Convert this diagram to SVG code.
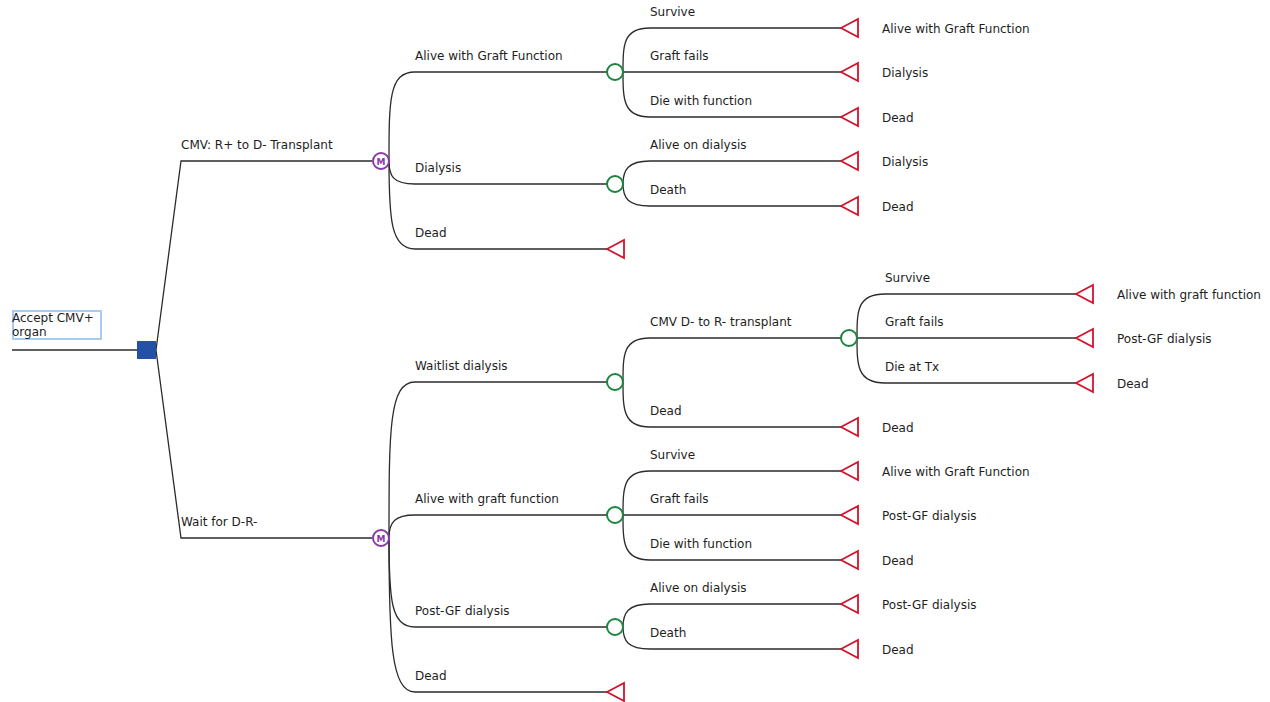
<svg xmlns="http://www.w3.org/2000/svg" width="1270" height="702" viewBox="0 0 1270 702">
<style>
.ln{fill:none;stroke:#2b2b2b;stroke-width:1.3}
.ch{fill:#fff;stroke:#1e8440;stroke-width:2}
.mk{fill:#fff;stroke:#8a3aa6;stroke-width:2}
.tm{fill:#fff;stroke:#d3132d;stroke-width:1.8;stroke-linejoin:miter}
.t{font-family:"DejaVu Sans","Liberation Sans",sans-serif;font-size:12px;fill:#1e1e1e}
.mt{font-family:"DejaVu Sans","Liberation Sans",sans-serif;font-size:9px;font-weight:bold;fill:#8a3aa6}
</style>
<rect width="1270" height="702" fill="#fff"/>
<g id="connectors">
<path class="ln" d="M12,350H137"/>
<path class="ln" d="M156,350L181,161H372"/>
<path class="ln" d="M156,350L181,538H372"/>
<path class="ln" d="M389,161C389,100 389,72 415,72H607"/>
<path class="ln" d="M389,161C389,176 393,184 415,184H607"/>
<path class="ln" d="M389,161C389,220 391,249 415,249H607"/>
<path class="ln" d="M623,72C623,45 623,28 650,28H841"/>
<path class="ln" d="M623,72H841"/>
<path class="ln" d="M623,72C623,99 623,117 650,117H841"/>
<path class="ln" d="M623,184C623,170 628,161 650,161H841"/>
<path class="ln" d="M623,184C623,198 628,206 650,206H841"/>
<path class="ln" d="M389,538C389,430 389,382 415,382H607"/>
<path class="ln" d="M389,538C389,522 395,515 415,515H607"/>
<path class="ln" d="M389,538C389,600 391,627 415,627H607"/>
<path class="ln" d="M389,538C389,640 391,692 415,692H607"/>
<path class="ln" d="M623,382C623,355 623,338 650,338H841"/>
<path class="ln" d="M623,382C623,409 623,427 650,427H841"/>
<path class="ln" d="M857,338C857,311 857,294 885,294H1076"/>
<path class="ln" d="M857,338H1076"/>
<path class="ln" d="M857,338C857,365 857,383 885,383H1076"/>
<path class="ln" d="M623,515C623,488 623,471 650,471H841"/>
<path class="ln" d="M623,515H841"/>
<path class="ln" d="M623,515C623,542 623,560 650,560H841"/>
<path class="ln" d="M623,627C623,613 628,604 650,604H841"/>
<path class="ln" d="M623,627C623,641 628,649 650,649H841"/>
<text class="t" x="181" y="148.5">CMV: R+ to D- Transplant</text>
<text class="t" x="181" y="525.5">Wait for D-R-</text>
<text class="t" x="415" y="59.5">Alive with Graft Function</text>
<text class="t" x="415" y="171.5">Dialysis</text>
<text class="t" x="415" y="236.5">Dead</text>
<text class="t" x="650" y="15.5">Survive</text>
<text class="t" x="650" y="59.5">Graft fails</text>
<text class="t" x="650" y="104.5">Die with function</text>
<text class="t" x="650" y="148.5">Alive on dialysis</text>
<text class="t" x="650" y="193.5">Death</text>
<text class="t" x="415" y="369.5">Waitlist dialysis</text>
<text class="t" x="415" y="502.5">Alive with graft function</text>
<text class="t" x="415" y="614.5">Post-GF dialysis</text>
<text class="t" x="415" y="679.5">Dead</text>
<text class="t" x="650" y="325.5">CMV D- to R- transplant</text>
<text class="t" x="650" y="414.5">Dead</text>
<text class="t" x="885" y="281.5">Survive</text>
<text class="t" x="885" y="325.5">Graft fails</text>
<text class="t" x="885" y="370.5">Die at Tx</text>
<text class="t" x="650" y="458.5">Survive</text>
<text class="t" x="650" y="502.5">Graft fails</text>
<text class="t" x="650" y="547.5">Die with function</text>
<text class="t" x="650" y="591.5">Alive on dialysis</text>
<text class="t" x="650" y="636.5">Death</text>
</g>
<g id="root">
<rect x="13" y="311" width="88" height="28" fill="#fff" stroke="#a7cdf5" stroke-width="2"/>
<text class="t" x="12" y="322">Accept CMV+</text>
<text class="t" x="12" y="336">organ</text>
<rect x="137" y="341" width="19" height="18" fill="#2450a6"/>
</g>
<g id="markov1"><circle class="mk" cx="381" cy="161" r="8"/><text class="mt" x="381" y="164.5" text-anchor="middle">M</text></g>
<g id="markov2"><circle class="mk" cx="381" cy="538" r="8"/><text class="mt" x="381" y="541.5" text-anchor="middle">M</text></g>
<g id="chance1"><circle class="ch" cx="615" cy="72" r="8"/></g>
<g id="chance2"><circle class="ch" cx="615" cy="184" r="8"/></g>
<g id="chance3"><circle class="ch" cx="615" cy="382" r="8"/></g>
<g id="chance4"><circle class="ch" cx="615" cy="515" r="8"/></g>
<g id="chance5"><circle class="ch" cx="615" cy="627" r="8"/></g>
<g id="chance6"><circle class="ch" cx="849" cy="338" r="8"/></g>
<g id="term1"><polygon class="tm" points="841,28 858,19 858,37"/><text class="t" x="882" y="33">Alive with Graft Function</text></g>
<g id="term2"><polygon class="tm" points="841,72 858,63 858,81"/><text class="t" x="882" y="77">Dialysis</text></g>
<g id="term3"><polygon class="tm" points="841,117 858,108 858,126"/><text class="t" x="882" y="122">Dead</text></g>
<g id="term4"><polygon class="tm" points="841,161 858,152 858,170"/><text class="t" x="882" y="166">Dialysis</text></g>
<g id="term5"><polygon class="tm" points="841,206 858,197 858,215"/><text class="t" x="882" y="211">Dead</text></g>
<g id="term6"><polygon class="tm" points="607,249 624,240 624,258"/></g>
<g id="term7"><polygon class="tm" points="1076,294 1093,285 1093,303"/><text class="t" x="1117" y="299">Alive with graft function</text></g>
<g id="term8"><polygon class="tm" points="1076,338 1093,329 1093,347"/><text class="t" x="1117" y="343">Post-GF dialysis</text></g>
<g id="term9"><polygon class="tm" points="1076,383 1093,374 1093,392"/><text class="t" x="1117" y="388">Dead</text></g>
<g id="term10"><polygon class="tm" points="841,427 858,418 858,436"/><text class="t" x="882" y="432">Dead</text></g>
<g id="term11"><polygon class="tm" points="841,471 858,462 858,480"/><text class="t" x="882" y="476">Alive with Graft Function</text></g>
<g id="term12"><polygon class="tm" points="841,515 858,506 858,524"/><text class="t" x="882" y="520">Post-GF dialysis</text></g>
<g id="term13"><polygon class="tm" points="841,560 858,551 858,569"/><text class="t" x="882" y="565">Dead</text></g>
<g id="term14"><polygon class="tm" points="841,604 858,595 858,613"/><text class="t" x="882" y="609">Post-GF dialysis</text></g>
<g id="term15"><polygon class="tm" points="841,649 858,640 858,658"/><text class="t" x="882" y="654">Dead</text></g>
<g id="term16"><polygon class="tm" points="607,692 624,683 624,701"/></g>
</svg>
